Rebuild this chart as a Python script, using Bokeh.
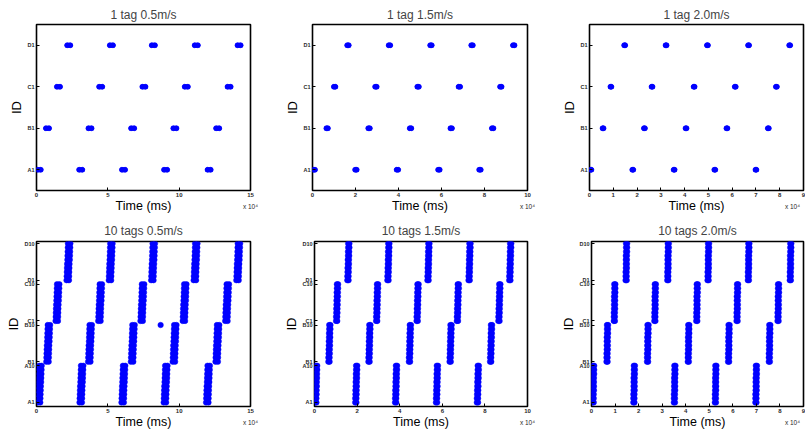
from bokeh.plotting import figure
from bokeh.layouts import row, column
from bokeh.models import Range1d, FixedTicker, LinearAxis
from bokeh.embed import file_html
from bokeh.resources import INLINE

# ---------------- data (times in units of 10^4 ms) ----------------
titles = ["1 tag 0.5m/s", "1 tag 1.5m/s", "1 tag 2.0m/s",
          "10 tags 0.5m/s", "10 tags 1.5m/s", "10 tags 2.0m/s"]
x_max = [15, 10, 9]
x_ticks = [[0, 5, 10, 15], [0, 2, 4, 6, 8, 10], [0, 1, 2, 3, 4, 5, 6, 7, 8, 9]]
zones = ["A", "B", "C", "D"]

# 1 tag: centre of each reading burst per zone (A1, B1, C1, D1)
one_tag_05 = {"A": [0.19, 3.10, 6.10, 9.05, 12.10],
              "B": [0.77, 3.75, 6.74, 9.70, 12.70],
              "C": [1.54, 4.50, 7.53, 10.50, 13.50],
              "D": [2.26, 5.25, 8.19, 11.20, 14.20]}
one_tag_15 = {"A": [0.08, 2.02, 3.95, 5.88, 7.79],
              "B": [0.68, 2.63, 4.56, 6.45, 8.38],
              "C": [1.03, 2.95, 4.91, 6.83, 8.76],
              "D": [1.65, 3.58, 5.51, 7.42, 9.36]}
one_tag_20 = {"A": [0.06, 1.82, 3.56, 5.27, 7.00],
              "B": [0.57, 2.31, 4.06, 5.78, 7.52],
              "C": [0.90, 2.63, 4.40, 6.13, 7.86],
              "D": [1.48, 3.22, 4.96, 6.69, 8.42]}
one_tag_dwell = [0.22, 0.07, 0.04]

# 10 tags: centre time of each zone pass, per-tag time shift, burst length
ten_tag_05 = {"A": [0.23, 3.15, 6.09, 9.05, 12.02],
              "B": [0.82, 3.75, 6.75, 9.68, 12.68],
              "C": [1.47, 4.46, 7.42, 10.38, 13.36],
              "D": [2.24, 5.20, 8.17, 11.15, 14.14]}
ten_tag_15 = {"A": [0.08, 1.96, 3.83, 5.75, 7.67],
              "B": [0.70, 2.58, 4.48, 6.39, 8.29],
              "C": [1.06, 2.94, 4.84, 6.73, 8.68],
              "D": [1.59, 3.47, 5.35, 7.28, 9.19]}
ten_tag_20 = {"A": [0.08, 1.81, 3.53, 5.27, 6.99],
              "B": [0.67, 2.39, 4.12, 5.83, 7.56],
              "C": [0.98, 2.70, 4.48, 6.19, 7.93],
              "D": [1.48, 3.25, 4.96, 6.67, 8.45]}
tag_shift_05 = [-0.05, -0.04, -0.03, -0.02, -0.01, 0.01, 0.02, 0.03, 0.04, 0.05]
tag_shift_15 = [-0.02, -0.02, -0.01, -0.01, 0.00, 0.00, 0.01, 0.01, 0.02, 0.02]
tag_shift_20 = [-0.01, -0.01, -0.01, 0.00, 0.00, 0.00, 0.00, 0.01, 0.01, 0.01]
ten_tag_dwell = [0.17, 0.06, 0.05]
stray_x = [8.70]
stray_y = [20]

y_ticks_1 = [1, 2, 3, 4]
y_labels_1 = ["A1", "B1", "C1", "D1"]
y_ticks_10 = [1, 10, 11, 20, 21, 30, 31, 40]
y_labels_10 = ["A1", "A10", "B1", "B10", "C1", "C10", "D1", "D10"]
scale_note = "x 10\u2074"

# ---------------- layout ----------------
FONT = "Liberation Sans"
BLUE = "#0000FF"
col_left = [36, 31, 31]
col_frame = [214, 215, 214]
col_right = [31, 31, 2]
row_top = [24, 25]
row_frame = [166, 166]
row_bottom = [26, 24]
title_standoff = [5, 8]


def style_labels(ax):
    ax.major_label_text_font = FONT
    ax.major_label_text_color = "#2a2a2a"
    ax.major_label_text_font_style = "bold"
    ax.axis_label_text_font = FONT
    ax.axis_label_text_font_style = "normal"
    ax.axis_label_text_color = "black"


def make_fig(r, c, title, ylim, yt, yl):
    p = figure(width=col_left[c] + col_frame[c] + col_right[c],
               height=row_top[r] + row_frame[r] + row_bottom[r],
               x_range=Range1d(0, x_max[c]), y_range=Range1d(*ylim),
               output_backend="svg", toolbar_location=None, title=title,
               min_border_left=col_left[c], min_border_right=col_right[c],
               min_border_top=row_top[r], min_border_bottom=row_bottom[r])
    p.title.align = "center"
    p.title.text_font = FONT
    p.title.text_font_size = "12px"
    p.title.text_font_style = "normal"
    p.title.standoff = title_standoff[r]
    p.title.offset = 0
    p.grid.visible = False
    p.outline_line_color = "black"
    p.outline_line_width = 1.6
    p.outline_line_alpha = 1

    xa = p.xaxis[0]
    xa.ticker = FixedTicker(ticks=x_ticks[c])
    ya = p.yaxis[0]
    ya.ticker = FixedTicker(ticks=yt)
    ya.major_label_overrides = {t: l for t, l in zip(yt, yl)}
    ya.axis_label = "ID"
    ya.axis_label_text_font_size = "13px"
    ya.axis_label_standoff = 0
    for ax in (xa, ya):
        style_labels(ax)
        ax.axis_line_color = None
        ax.major_tick_in = 3
        ax.major_tick_out = 0
        ax.minor_tick_line_color = None
        ax.major_tick_line_color = "black"
        ax.major_label_standoff = 2
    ya.major_label_text_font_size = "5.5px"
    xa.major_label_text_font_size = "6px"

    # second bottom axis: carries the "x 10^4" multiplier and the axis title
    xb = LinearAxis(ticker=FixedTicker(ticks=[x_max[c]]),
                    major_label_overrides={x_max[c]: scale_note},
                    axis_label="Time (ms)")
    style_labels(xb)
    xb.axis_label_text_font_size = "12.5px"
    xb.axis_line_color = None
    xb.major_tick_line_color = None
    xb.minor_tick_line_color = None
    xb.major_tick_in = 0
    xb.major_tick_out = 0
    xb.major_label_text_font_size = "6.5px"
    xb.major_label_text_font_style = "normal"
    xb.major_label_text_align = "right"
    xb.major_label_standoff = 3
    xb.axis_label_standoff = -14
    p.add_layout(xb, "below")
    return p


figs = []
one_sets = [one_tag_05, one_tag_15, one_tag_20]
for c in range(3):
    p = make_fig(0, c, titles[c], (0.5, 4.5), y_ticks_1, y_labels_1)
    d = one_tag_dwell[c]
    for zi, z in enumerate(zones):
        centres = one_sets[c][z]
        y = [zi + 1] * len(centres)
        x0 = [t - d / 2 for t in centres]
        x1 = [t + d / 2 for t in centres]
        p.segment(x0=x0, y0=y, x1=x1, y1=y, line_color=BLUE, line_width=5,
                  line_cap="round")
        p.scatter(x=x0 + x1, y=y + y, size=5, marker="circle",
                  fill_color=BLUE, line_color=BLUE, line_alpha=0.6)
    figs.append(p)

ten_sets = [ten_tag_05, ten_tag_15, ten_tag_20]
shifts = [tag_shift_05, tag_shift_15, tag_shift_20]
for c in range(3):
    p = make_fig(1, c, titles[3 + c], (0, 40.5), y_ticks_10, y_labels_10)
    d = ten_tag_dwell[c]
    xs, ys = [], []
    for zi, z in enumerate(zones):
        for t in ten_sets[c][z]:
            for k, s in enumerate(shifts[c]):
                tag_y = zi * 10 + k + 1
                xs += [t + s - d / 2, t + s + d / 2]
                ys += [tag_y, tag_y]
    if c == 0:
        xs += stray_x
        ys += stray_y
    p.scatter(x=xs, y=ys, size=5.5, marker="circle", fill_color=BLUE,
              line_color=BLUE, line_alpha=0.5)
    figs.append(p)

layout = column(row(*figs[0:3]), row(*figs[3:6]))
open("out.html", "w").write(file_html(layout, INLINE))
